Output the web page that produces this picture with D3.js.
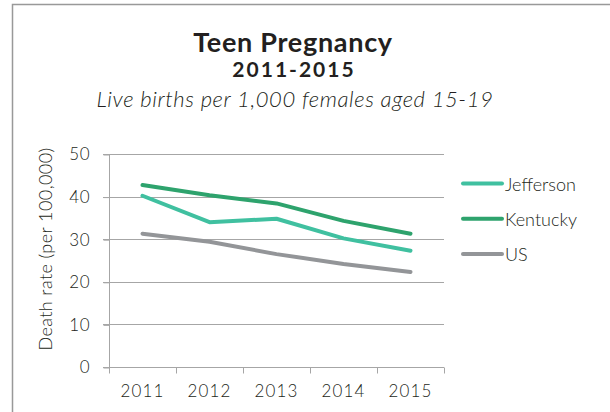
<!DOCTYPE html>
<html>
<head>
<meta charset="utf-8">
<script src="https://cdn.jsdelivr.net/npm/d3@7"></script>
<style>
  body { margin: 0; background: #fff; }
  svg { display: block; }
</style>
</head>
<body>
<div id="vis"></div>
<script>
const years = ['2011', '2012', '2013', '2014', '2015'];
const jefferson = [40.2, 34.0, 34.8, 30.2, 27.3];
const kentucky = [42.7, 40.3, 38.4, 34.3, 31.3];
const us = [31.3, 29.4, 26.5, 24.2, 22.3];
const yTicks = [0, 10, 20, 30, 40, 50];

const series = [
    { name: 'Jefferson', values: jefferson, color: '#40c0a0' },
    { name: 'Kentucky', values: kentucky, color: '#2ea36d' },
    { name: 'US', values: us, color: '#939598' }
];

const width = 610;
const height = 412;
const font = 'Lato, "Open Sans", sans-serif';

const svg = d3.select('#vis')
    .append('svg')
    .attr('width', width)
    .attr('height', height);

// frame
svg.append('path')
    .attr('d', 'M12.5,' + height + ' V4.5 H' + width)
    .attr('fill', 'none')
    .attr('stroke', '#999')
    .attr('stroke-width', 1.5);

// titles
svg.append('text')
    .attr('x', 293)
    .attr('y', 52)
    .attr('text-anchor', 'middle')
    .attr('font-family', font)
    .attr('font-weight', 'bold')
    .attr('font-size', '27px')
    .attr('letter-spacing', '0.7px')
    .attr('fill', '#231f20')
    .text('Teen Pregnancy');

svg.append('text')
    .attr('x', 294)
    .attr('y', 77)
    .attr('text-anchor', 'middle')
    .attr('font-family', font)
    .attr('font-weight', 'bold')
    .attr('font-size', '21px')
    .attr('letter-spacing', '2px')
    .attr('fill', '#231f20')
    .text('2011-2015');

svg.append('text')
    .attr('x', 295)
    .attr('y', 107)
    .attr('text-anchor', 'middle')
    .attr('font-family', font)
    .attr('font-style', 'italic')
    .attr('font-weight', 300)
    .attr('font-size', '22px')
    .attr('letter-spacing', '0.6px')
    .attr('fill', '#231f20')
    .text('Live births per 1,000 females aged 15-19');

// scales
const x = d3.scaleBand()
    .domain(years)
    .range([109, 444]);

const y = d3.scaleLinear()
    .domain([0, 50])
    .range([367, 154]);

// gridlines
svg.append('g')
    .selectAll('line')
    .data(yTicks.filter(d => d > 0))
    .join('line')
    .attr('x1', 103)
    .attr('x2', 444)
    .attr('y1', d => Math.round(y(d)) + 0.5)
    .attr('y2', d => Math.round(y(d)) + 0.5)
    .attr('stroke', '#a6a6a6')
    .attr('stroke-width', 1);

// y axis
const yAxis = svg.append('g')
    .attr('transform', 'translate(109.5,0.5)')
    .call(d3.axisLeft(y).tickValues(yTicks).tickSize(6).tickPadding(13));
yAxis.selectAll('path, line').attr('stroke', '#a6a6a6');
yAxis.select('.domain').attr('d', 'M0,' + y(50) + 'V' + y(0));
yAxis.selectAll('text')
    .attr('font-family', font)
    .attr('font-weight', 300)
    .attr('font-size', '17px')
    .attr('letter-spacing', '0.8px')
    .attr('fill', '#231f20');

// x axis
const xAxis = svg.append('g')
    .attr('transform', 'translate(0,' + (Math.round(y(0)) + 0.5) + ')');
xAxis.append('line')
    .attr('x1', 103)
    .attr('x2', 444)
    .attr('stroke', '#a6a6a6');
xAxis.selectAll('.tick')
    .data(years.concat(['end']))
    .join('line')
    .attr('x1', (d, i) => Math.round(i < years.length ? x(d) : x.range()[1]) + 0.5)
    .attr('x2', (d, i) => Math.round(i < years.length ? x(d) : x.range()[1]) + 0.5)
    .attr('y1', 0)
    .attr('y2', 6)
    .attr('stroke', '#a6a6a6');
xAxis.selectAll('text')
    .data(years)
    .join('text')
    .attr('x', d => x(d) + x.bandwidth() / 2)
    .attr('y', 29.5)
    .attr('text-anchor', 'middle')
    .attr('font-family', font)
    .attr('font-weight', 300)
    .attr('font-size', '17px')
    .attr('letter-spacing', '1.2px')
    .attr('fill', '#231f20')
    .text(d => d);

// axis title
svg.append('text')
    .attr('transform', 'translate(52,249) rotate(-90)')
    .attr('text-anchor', 'middle')
    .attr('font-family', font)
    .attr('font-weight', 300)
    .attr('font-size', '18px')
    .attr('letter-spacing', '0.4px')
    .attr('fill', '#231f20')
    .text('Death rate (per 100,000)');

// lines
const line = d3.line()
    .x((d, i) => x(years[i]) + x.bandwidth() / 2)
    .y(d => y(d));

svg.append('g')
    .selectAll('path')
    .data(series)
    .join('path')
    .attr('d', d => line(d.values))
    .attr('fill', 'none')
    .attr('stroke', d => d.color)
    .attr('stroke-width', 4)
    .attr('stroke-linecap', 'round')
    .attr('stroke-linejoin', 'round');

// legend
const legend = svg.append('g')
    .selectAll('g')
    .data(series)
    .join('g')
    .attr('transform', (d, i) => 'translate(463,' + (183.5 + i * 35.3) + ')');

legend.append('line')
    .attr('x1', 0)
    .attr('x2', 39)
    .attr('stroke', d => d.color)
    .attr('stroke-width', 4)
    .attr('stroke-linecap', 'round');

legend.append('text')
    .attr('x', 42)
    .attr('y', 0)
    .attr('dominant-baseline', 'central')
    .attr('font-family', font)
    .attr('font-weight', 300)
    .attr('font-size', '18px')
    .attr('fill', '#231f20')
    .text(d => d.name);
</script>
</body>
</html>
